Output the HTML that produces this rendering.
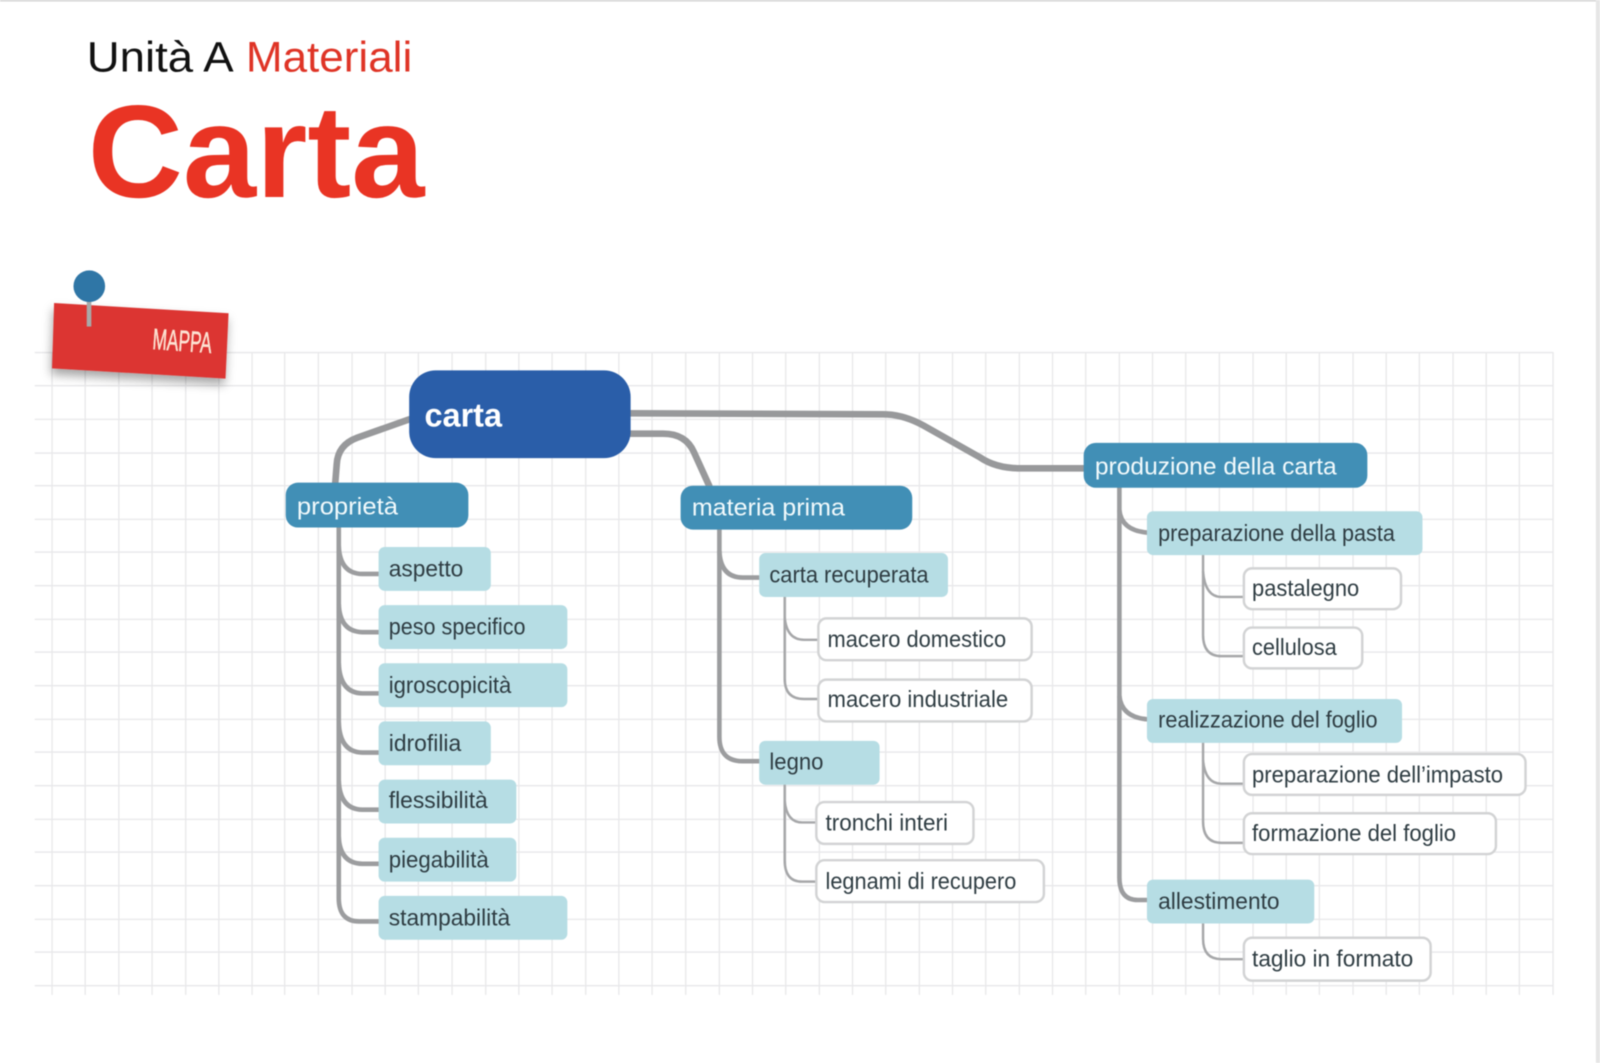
<!DOCTYPE html>
<html lang="it">
<head>
<meta charset="utf-8">
<title>Unità A Materiali – Carta</title>
<style>
html,body{margin:0;padding:0;background:#fff;width:1600px;height:1063px;overflow:hidden}
svg{display:block;filter:blur(.4px)}
text{font-family:"Liberation Sans","DejaVu Sans",sans-serif}
.g{stroke:#e8e8ea;stroke-width:1.3;fill:none}
.c1{fill:none;stroke:#98999b;stroke-width:6.5;stroke-linecap:round}
.c2{fill:none;stroke:#9c9d9f;stroke-width:4.5}
.c3{fill:none;stroke:#a6a7a9;stroke-width:2.4}
.l1{fill:#418fb6}
.l2{fill:#b6dde4}
.l3{fill:#fff;stroke:#d2d3d4;stroke-width:2.4}
.t1{fill:#f2fafc;font-size:24px}
.t2,.t3{fill:#2e3c42;font-size:23px;transform:translateY(-1px)}
</style>
</head>
<body>
<svg width="1600" height="1063" viewBox="0 0 1568 1041.74" xmlns="http://www.w3.org/2000/svg">
<defs>
<filter id="sh" x="-20%" y="-30%" width="140%" height="170%">
<feDropShadow dx="-1" dy="6" stdDeviation="5" flood-color="#000" flood-opacity=".35"/>
</filter>
</defs>
<rect width="1568" height="1042" fill="#fff"/>
<rect x="0" y="0" width="1568" height="1.5" fill="#d4d4d4"/>
<rect x="1564" y="0" width="4" height="1042" fill="#e6e6e6"/>

<!-- grid -->
<g class="g">
<path d="M34 345.5H1522M34 378H1522M34 411H1522M34 444H1522M34 476H1522M34 509H1522M34 541H1522M34 574H1522M34 607H1522M34 639H1522M34 672H1522M34 705H1522M34 737H1522M34 770H1522M34 803H1522M34 835H1522M34 868H1522M34 901H1522M34 933H1522M34 966H1522"/>
<path d="M51 345V975M83.5 345V975M116.5 345V975M149 345V975M182 345V975M214.500 345V975M247 345V975M279 345V975M312 345V975M345 345V975M377.500 345V975M410 345V975M443 345V975M476 345V975M508.500 345V975M541 345V975M574 345V975M606.500 345V975M639 345V975M672 345V975M705 345V975M737.500 345V975M770 345V975M803 345V975M835.500 345V975M868 345V975M901 345V975M933.500 345V975M966 345V975M999 345V975M1031.500 345V975M1064 345V975M1097 345V975M1129.500 345V975M1162 345V975M1195 345V975M1228 345V975M1260.500 345V975M1293 345V975M1326 345V975M1358.500 345V975M1391 345V975M1424 345V975M1456.500 345V975M1489 345V975M1522 345V975"/>
</g>

<!-- title -->
<text x="85" y="70" font-size="42" fill="#111" textLength="144" lengthAdjust="spacingAndGlyphs">Unità A</text>
<text x="241" y="70" font-size="42" fill="#df3426" textLength="163" lengthAdjust="spacingAndGlyphs">Materiali</text>
<text x="86" y="193" font-size="129" font-weight="700" fill="#e93424" textLength="330" lengthAdjust="spacingAndGlyphs">Carta</text>

<!-- tag -->
<polygon points="53,297 224,307 221,371 51,361" fill="#dc3433" filter="url(#sh)"/>
<rect x="85" y="293" width="4.500" height="27" fill="#a9a9a9"/>
<ellipse cx="87.500" cy="280.500" rx="15.500" ry="15.500" fill="#2f76a6"/>
<text x="149" y="342" font-size="29" fill="#fde3d3" stroke="#fde3d3" stroke-width=".5" transform="rotate(4 149 342)" textLength="58" lengthAdjust="spacingAndGlyphs">MAPPA</text>

<!-- main connectors -->
<path class="c1" d="M401 411L350 429Q331 436 330 455L328.500 474"/>
<path class="c1" d="M618 405L865 406Q885 406 905 417L960 448Q976 459 1000 459L1062 459"/>
<path class="c1" d="M618 425L650 425Q672 425 680 443L695 476"/>

<!-- level 2 connectors -->
<g class="c2">
<path d="M332 516V880Q332 903 352 903H372"/>
<path d="M332 535Q333 562 355 562.500H372"/>
<path d="M332 592Q333 619 355 619.500H372"/>
<path d="M332 650Q333 679 355 679.500H372"/>
<path d="M332 708Q333 737 355 737.500H372"/>
<path d="M332 765Q333 793 355 793.500H372"/>
<path d="M332 820Q333 846 355 846.500H372"/>
<path d="M705 518V722Q705 746 728 746H745"/>
<path d="M705 540Q706 566 728 566H745"/>
<path d="M1097 477V860Q1097 882 1115 882H1125"/>
<path d="M1097 500Q1099 520 1125 522"/>
<path d="M1097 682Q1099 703 1125 705"/>
</g>

<!-- level 3 connectors -->
<g class="c3">
<path d="M769 584V665Q769 685 788 685H803"/>
<path d="M769 605Q771 627 788 627H803"/>
<path d="M769 768V843Q769 864 786 864H801"/>
<path d="M769 785Q771 806 786 806H801"/>
<path d="M1179 543V622Q1179 643 1197 643H1220"/>
<path d="M1179 560Q1181 585 1197 585H1220"/>
<path d="M1179 727V805Q1179 826 1197 826H1220"/>
<path d="M1179 745Q1181 768 1197 768H1220"/>
<path d="M1179 904V920Q1179 940 1197 940H1220"/>
</g>

<!-- root -->
<rect x="401" y="363" width="217" height="86" rx="26" fill="#2a5ea9"/>
<text x="416" y="418" font-size="33" font-weight="700" fill="#fff" textLength="76" lengthAdjust="spacingAndGlyphs">carta</text>

<!-- level 1 -->
<rect class="l1" x="280" y="473" width="179" height="44" rx="12"/>
<text class="t1" x="291" y="504" textLength="99" lengthAdjust="spacingAndGlyphs">proprietà</text>
<rect class="l1" x="667" y="476" width="227" height="43" rx="12"/>
<text class="t1" x="678" y="505" textLength="150" lengthAdjust="spacingAndGlyphs">materia prima</text>
<rect class="l1" x="1062" y="434" width="278" height="44" rx="12"/>
<text class="t1" x="1073" y="465" textLength="237" lengthAdjust="spacingAndGlyphs">produzione della carta</text>

<!-- level 2 -->
<rect class="l2" x="371" y="536" width="110" height="43" rx="6"/>
<text class="t2" x="381" y="566" textLength="73" lengthAdjust="spacingAndGlyphs">aspetto</text>
<rect class="l2" x="371" y="593" width="185" height="43" rx="6"/>
<text class="t2" x="381" y="623" textLength="134" lengthAdjust="spacingAndGlyphs">peso specifico</text>
<rect class="l2" x="371" y="650" width="185" height="43" rx="6"/>
<text class="t2" x="381" y="680" textLength="120" lengthAdjust="spacingAndGlyphs">igroscopicità</text>
<rect class="l2" x="371" y="707" width="110" height="43" rx="6"/>
<text class="t2" x="381" y="737" textLength="71" lengthAdjust="spacingAndGlyphs">idrofilia</text>
<rect class="l2" x="371" y="764" width="135" height="43" rx="6"/>
<text class="t2" x="381" y="793" textLength="97" lengthAdjust="spacingAndGlyphs">flessibilità</text>
<rect class="l2" x="371" y="821" width="135" height="43" rx="6"/>
<text class="t2" x="381" y="851" textLength="98" lengthAdjust="spacingAndGlyphs">piegabilità</text>
<rect class="l2" x="371" y="878" width="185" height="43" rx="6"/>
<text class="t2" x="381" y="908" textLength="119" lengthAdjust="spacingAndGlyphs">stampabilità</text>

<rect class="l2" x="744" y="542" width="185" height="43" rx="6"/>
<text class="t2" x="754" y="572" textLength="156" lengthAdjust="spacingAndGlyphs">carta recuperata</text>
<rect class="l2" x="744" y="726" width="118" height="43" rx="6"/>
<text class="t2" x="754" y="755" textLength="53" lengthAdjust="spacingAndGlyphs">legno</text>

<rect class="l2" x="1124" y="501" width="270" height="43" rx="6"/>
<text class="t2" x="1135" y="531" textLength="232" lengthAdjust="spacingAndGlyphs">preparazione della pasta</text>
<rect class="l2" x="1124" y="685" width="250" height="43" rx="6"/>
<text class="t2" x="1135" y="714" textLength="215" lengthAdjust="spacingAndGlyphs">realizzazione del foglio</text>
<rect class="l2" x="1124" y="862" width="164" height="43" rx="6"/>
<text class="t2" x="1135" y="892" textLength="119" lengthAdjust="spacingAndGlyphs">allestimento</text>

<!-- level 3 -->
<rect class="l3" x="802" y="606" width="209" height="41" rx="8"/>
<text class="t3" x="811" y="635" textLength="175" lengthAdjust="spacingAndGlyphs">macero domestico</text>
<rect class="l3" x="802" y="666" width="209" height="41" rx="8"/>
<text class="t3" x="811" y="694" textLength="177" lengthAdjust="spacingAndGlyphs">macero industriale</text>
<rect class="l3" x="800" y="786" width="154" height="41" rx="8"/>
<text class="t3" x="809" y="815" textLength="120" lengthAdjust="spacingAndGlyphs">tronchi interi</text>
<rect class="l3" x="800" y="843" width="223" height="41" rx="8"/>
<text class="t3" x="809" y="872" textLength="187" lengthAdjust="spacingAndGlyphs">legnami di recupero</text>

<rect class="l3" x="1219" y="557" width="154" height="40" rx="8"/>
<text class="t3" x="1227" y="585" textLength="105" lengthAdjust="spacingAndGlyphs">pastalegno</text>
<rect class="l3" x="1219" y="615" width="116" height="40" rx="8"/>
<text class="t3" x="1227" y="643" textLength="83" lengthAdjust="spacingAndGlyphs">cellulosa</text>
<rect class="l3" x="1219" y="739" width="276" height="40" rx="8"/>
<text class="t3" x="1227" y="768" textLength="246" lengthAdjust="spacingAndGlyphs">preparazione dell’impasto</text>
<rect class="l3" x="1219" y="797" width="247" height="40" rx="8"/>
<text class="t3" x="1227" y="825" textLength="200" lengthAdjust="spacingAndGlyphs">formazione del foglio</text>
<rect class="l3" x="1219" y="919" width="183" height="42" rx="8"/>
<text class="t3" x="1227" y="948" textLength="158" lengthAdjust="spacingAndGlyphs">taglio in formato</text>
</svg>
</body>
</html>
